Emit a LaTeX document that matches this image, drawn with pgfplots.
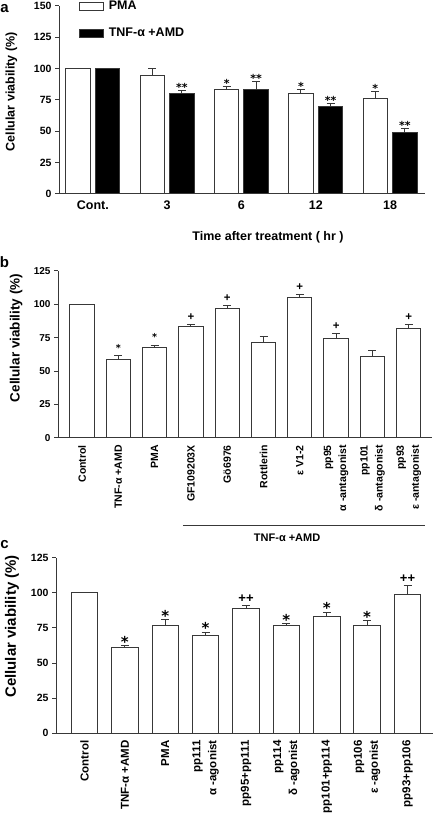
\documentclass[border=0pt]{standalone}
\usepackage{fontspec}
\setmainfont{Liberation Sans}
\newfontfamily\starfont{DejaVu Sans}
\usepackage{pgfplots}
\pgfplotsset{compat=1.18}
\definecolor{edge}{gray}{0.22}
\newcommand{\fs}[2]{\fontsize{#1}{#2}\selectfont}
\pgfplotsset{
  panel/.style={
    scale only axis, anchor=south west, clip=false,
    axis lines=left, axis line style={-, line width=1pt, edge},
    ymin=0, tick align=outside, major tick length=4pt,
    ytick style={line width=1pt, edge},
    xtick style={draw=none},
    /pgf/number format/assume math mode=true,
  },
  errs/.style={error bars/y dir=plus, error bars/y explicit,
    error bars/error bar style={line width=1pt, edge},
    error bars/error mark options={line width=1pt, edge, mark size=4pt, rotate=90}},
  barstyle/.style={ybar, line width=1pt, draw=edge,
    legend image code/.code={\draw[##1] (0pt,-4pt) rectangle (24pt,4pt);}},
  errp/.style={only marks, mark size=0pt, mark options={draw=none,fill=none}, forget plot, errs},
  lab/.style={only marks, mark size=0pt, mark options={draw=none,fill=none}, forget plot,
    nodes near coords, point meta=explicit symbolic,
    nodes near coords style={anchor=south, inner sep=0pt, #1}},
}
\begin{document}
\begin{tikzpicture}
\useasboundingbox (0pt,0pt) rectangle (436pt,825pt);
\node[font=\bfseries\fs{15}{18}] at (4.5pt,816.5pt) {a};
\node[font=\bfseries\fs{15}{18}] at (4.5pt,563pt) {b};
\node[font=\bfseries\fs{15}{18}] at (4.5pt,280pt) {c};

% ---------------- panel a
\begin{axis}[panel, at={(59pt,631.3pt)}, width=366pt, height=187.7pt,
  xmin=-0.455, xmax=4.47, ymax=150, ytick={0,25,...,150},
  xtick={0,...,4}, xticklabels={Cont.,3,6,12,18},
  xticklabel style={font=\bfseries\fs{12.5}{15}},
  yticklabel style={font=\bfseries\fs{10.5}{12}},
  ylabel={Cellular viability (\%)},
  ylabel style={font=\bfseries\fs{12.5}{15}, at={(axis description cs:-0.13,0.543)}, anchor=center},
  xlabel={Time after treatment ( hr )},
  xlabel style={font=\bfseries\fs{12.5}{15}, at={(axis description cs:0.571,-0.231)}, anchor=center},
  legend style={at={(axis description cs:0.055,1.035)}, anchor=north west, draw=none, fill=none,
    font=\bfseries\fs{12.5}{15}, row sep=14pt, inner sep=0pt, nodes={inner sep=1.5pt},
    /tikz/every odd column/.append style={column sep=3pt}},
  legend cell align=left,
]
\addplot[barstyle, fill=white, bar width=24.5pt, bar shift=-14.8pt] coordinates {
  (0,100) (1,94.6) (2,82.9) (3,80.3) (4,75.9)};
\addlegendentry{PMA}
\addplot[barstyle, fill=black, bar width=24.5pt, bar shift=14.8pt] coordinates {
  (0,100) (1,80.3) (2,83.4) (3,69.3) (4,48.8)};
\addlegendentry{TNF-α +AMD}
\addplot[errp] coordinates {
  (0.801,94.6) +- (0,5.1) (1.801,82.9) +- (0,2.9) (2.801,80.3) +- (0,3.1) (3.801,75.9) +- (0,5.4)
  (1.199,80.3) +- (0,2.3) (2.199,83.4) +- (0,6.1) (3.199,69.3) +- (0,3.0) (4.199,48.8) +- (0,3.2)};
\addplot[lab={font=\starfont\bfseries\fs{11}{12}, yshift=-1pt}] coordinates {
  (1.801,85.8) [*] (2.801,83.4) [*] (3.801,81.3) [*]
  (1.199,82.6) [**] (2.199,89.5) [**] (3.199,72.3) [**] (4.199,52.0) [**]};
\end{axis}

% ---------------- panel b
\begin{axis}[panel, at={(58pt,387.3pt)}, width=374pt, height=166.7pt,
  xmin=-0.661, xmax=9.64, ymax=125, ytick={0,25,...,125},
  xtick={0,...,9},
  xticklabels={Control, TNF-α +AMD, PMA, GF109203X, Gö6976, Rottlerin, ε V1-2,
    {pp95\\α -antagonist}, {pp101\\δ -antagonist}, {pp93\\ε -antagonist}},
  xticklabel style={rotate=90, anchor=east, align=right, font=\bfseries\fs{10.5}{15}},
  yticklabel style={font=\bfseries\fs{10}{12}},
  ylabel={Cellular viability (\%)},
  ylabel style={font=\bfseries\fs{13.5}{16}, at={(axis description cs:-0.112,0.598)}, anchor=center},
]
\addplot[barstyle, fill=white, bar width=24.3pt, bar shift=0pt] coordinates {
  (0,100) (1,59) (2,67.5) (3,83.5) (4,97.25) (5,71.5) (6,105.25) (7,74.5) (8,61) (9,81.75)};
\addplot[errp] coordinates {
  (1,59) +- (0,2.75) (2,67.5) +- (0,2) (3,83.5) +- (0,1.5) (4,97.25) +- (0,2)
  (5,71.5) +- (0,4.25) (6,105.25) +- (0,2) (7,74.5) +- (0,3.5) (8,61) +- (0,4.25) (9,81.75) +- (0,3.25)};
\addplot[lab={font=\starfont\bfseries\fs{9.5}{10}, yshift=4pt}] coordinates {
  (1,61.75) [*] (2,69.5) [*]};
\addplot[lab={font=\bfseries\fs{11.5}{12}, yshift=3.5pt}] coordinates {
  (3,85) [+] (4,99.25) [+] (6,107.25) [+] (7,78) [+] (9,85) [+]};
\draw[line width=1pt, edge] (axis cs:2.78,-66) -- (axis cs:9.45,-66);
\node[font=\bfseries\fs{11}{13}] at (axis cs:5.65,-74.8) {TNF-α +AMD};
\end{axis}

% ---------------- panel c
\begin{axis}[panel, at={(56pt,92pt)}, width=377pt, height=175pt,
  xmin=-0.706, xmax=8.631, ymax=125, ytick={0,25,...,125},
  xtick={0,...,8},
  xticklabels={Control, TNF-α +AMD, PMA, {pp111\\α -agonist}, pp95+pp111,
    {pp114\\δ -agonist}, pp101+pp114, {pp106\\ε -agonist}, pp93+pp106},
  xticklabel style={rotate=90, anchor=east, align=right, font=\bfseries\fs{11.5}{16}},
  yticklabel style={font=\bfseries\fs{10.5}{12}},
  ylabel={Cellular viability (\%)},
  ylabel style={font=\bfseries\fs{15}{18}, at={(axis description cs:-0.117,0.609)}, anchor=center},
]
\addplot[barstyle, fill=white, bar width=26.5pt, bar shift=0pt] coordinates {
  (0,100) (1,60.9) (2,76.9) (3,69.5) (4,88.6) (5,76.9) (6,83.1) (7,76.9) (8,98.6)};
\addplot[errp] coordinates {
  (1,60.9) +- (0,1.7) (2,76.9) +- (0,4) (3,69.5) +- (0,2.6) (4,88.6) +- (0,2.4)
  (5,76.9) +- (0,1.5) (6,83.1) +- (0,3.3) (7,76.9) +- (0,3.3) (8,98.6) +- (0,6.9)};
\addplot[lab={font=\starfont\bfseries\fs{15}{16}, yshift=-2pt}] coordinates {
  (1,62.6) [*] (2,80.9) [*] (3,72.1) [*] (5,78.4) [*] (6,86.4) [*] (7,80.2) [*]};
\addplot[lab={font=\bfseries\fs{13}{14}, yshift=2.5pt}] coordinates {
  (4,91) [++] (8,105.5) [++]};
\end{axis}
\end{tikzpicture}
\end{document}
